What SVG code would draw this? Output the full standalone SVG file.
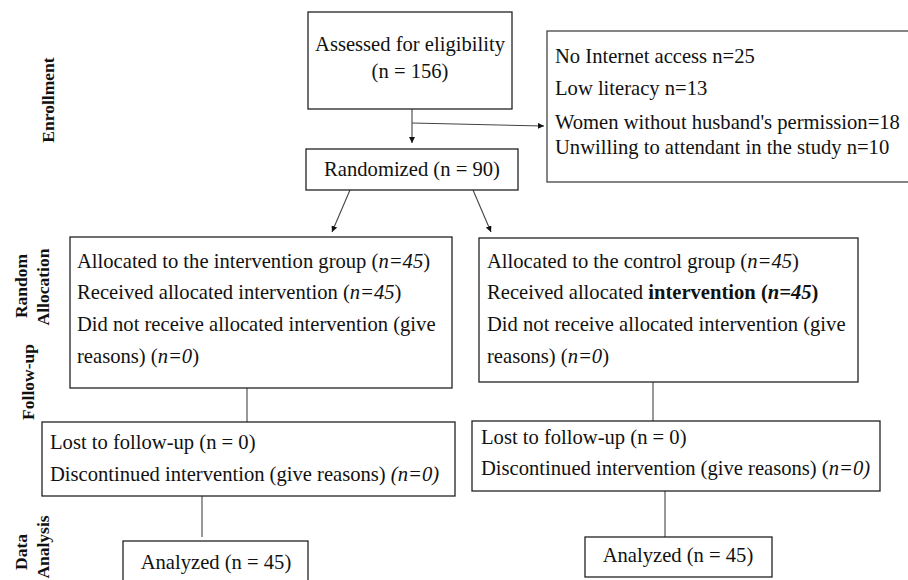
<svg xmlns="http://www.w3.org/2000/svg" width="908" height="580" viewBox="0 0 908 580">
<style>
  .box { fill: #fff; stroke: #222; stroke-width: 1.3; }
  .t { font-family: "Liberation Serif", "Times New Roman", serif; font-size: 20.6px; fill: #111; }
  .c { text-anchor: middle; }
  .lab { font-family: "Liberation Serif", "Times New Roman", serif; font-size: 17.5px; font-weight: bold; fill: #111; text-anchor: middle; }
  .i { font-style: italic; }
  .b { font-weight: bold; }
  .ln { stroke: #444; stroke-width: 1.1; fill: none; }
</style>
<defs>
  <marker id="ah" viewBox="0 0 10 10" refX="10" refY="5" markerWidth="6" markerHeight="6" markerUnits="userSpaceOnUse" orient="auto">
    <path d="M0,0 L10,5 L0,10 z" fill="#111"/>
  </marker>
</defs>
<rect width="908" height="580" fill="#fff"/>

<g id="stage-labels">
  <text class="lab" transform="translate(54,100) rotate(-90)">Enrollment</text>
  <text class="lab" transform="translate(27,286) rotate(-90)">Random</text>
  <text class="lab" transform="translate(49,287) rotate(-90)">Allocation</text>
  <text class="lab" transform="translate(34,382) rotate(-90)">Follow-up</text>
  <text class="lab" transform="translate(27,552) rotate(-90)">Data</text>
  <text class="lab" transform="translate(49,547) rotate(-90)">Analysis</text>
</g>

<g id="connectors">
  <line class="ln" x1="412" y1="93" x2="412" y2="143" marker-end="url(#ah)"/>
  <line class="ln" x1="412" y1="123" x2="544" y2="126" marker-end="url(#ah)"/>
  <line class="ln" x1="350" y1="190" x2="332" y2="232" marker-end="url(#ah)"/>
  <line class="ln" x1="473" y1="190" x2="491" y2="232" marker-end="url(#ah)"/>
  <line class="ln" x1="247" y1="388" x2="247" y2="422"/>
  <line class="ln" x1="653" y1="382" x2="653" y2="421"/>
  <line class="ln" x1="202" y1="496" x2="202" y2="537"/>
  <line class="ln" x1="665" y1="491" x2="665" y2="537"/>
</g>

<g id="assessed">
  <rect class="box" x="308" y="12" width="204" height="97"/>
  <text class="t c" x="410" y="51">Assessed for eligibility</text>
  <text class="t c" x="410" y="78">(n = 156)</text>
</g>

<g id="excluded">
  <rect class="box" x="547" y="31" width="365" height="151" style="stroke:#444"/>
  <text class="t" x="555" y="63">No Internet access n=25</text>
  <text class="t" x="555" y="95">Low literacy n=13</text>
  <text class="t" x="555" y="129">Women without husband's permission=18</text>
  <text class="t" x="555" y="154">Unwilling to attendant in the study n=10</text>
</g>

<g id="randomized">
  <rect class="box" x="306" y="149" width="212" height="41"/>
  <text class="t c" x="412" y="176">Randomized (n = 90)</text>
</g>

<g id="intervention-allocation">
  <rect class="box" x="70" y="237" width="382" height="151"/>
  <text class="t" x="77" y="268">Allocated to the intervention group (<tspan class="i">n=45</tspan>)</text>
  <text class="t" x="77" y="299">Received allocated intervention (<tspan class="i">n=45</tspan>)</text>
  <text class="t" x="77" y="331">Did not receive allocated intervention (give</text>
  <text class="t" x="77" y="363">reasons) (<tspan class="i">n=0</tspan>)</text>
</g>

<g id="control-allocation">
  <rect class="box" x="479" y="238" width="379" height="144"/>
  <text class="t" x="487" y="268">Allocated to the control group (<tspan class="i">n=45</tspan>)</text>
  <text class="t" x="487" y="299">Received allocated <tspan class="b">intervention (<tspan class="i">n=45</tspan>)</tspan></text>
  <text class="t" x="487" y="331">Did not receive allocated intervention (give</text>
  <text class="t" x="487" y="363">reasons) (<tspan class="i">n=0</tspan>)</text>
</g>

<g id="intervention-followup">
  <rect class="box" x="42" y="422" width="413" height="74"/>
  <text class="t" x="50" y="449">Lost to follow-up (n = 0)</text>
  <text class="t" x="50" y="481">Discontinued intervention (give reasons) <tspan class="i">(n=0)</tspan></text>
</g>

<g id="control-followup">
  <rect class="box" x="472" y="421" width="408" height="70"/>
  <text class="t" x="481" y="444">Lost to follow-up (n = 0)</text>
  <text class="t" x="481" y="475">Discontinued intervention (give reasons) (<tspan class="i">n=0)</tspan></text>
</g>

<g id="intervention-analysis">
  <rect class="box" x="123" y="541" width="185" height="45"/>
  <text class="t c" x="216" y="569">Analyzed (n = 45)</text>
</g>

<g id="control-analysis">
  <rect class="box" x="585" y="537" width="187" height="40"/>
  <text class="t c" x="678" y="562">Analyzed (n = 45)</text>
</g>
</svg>
